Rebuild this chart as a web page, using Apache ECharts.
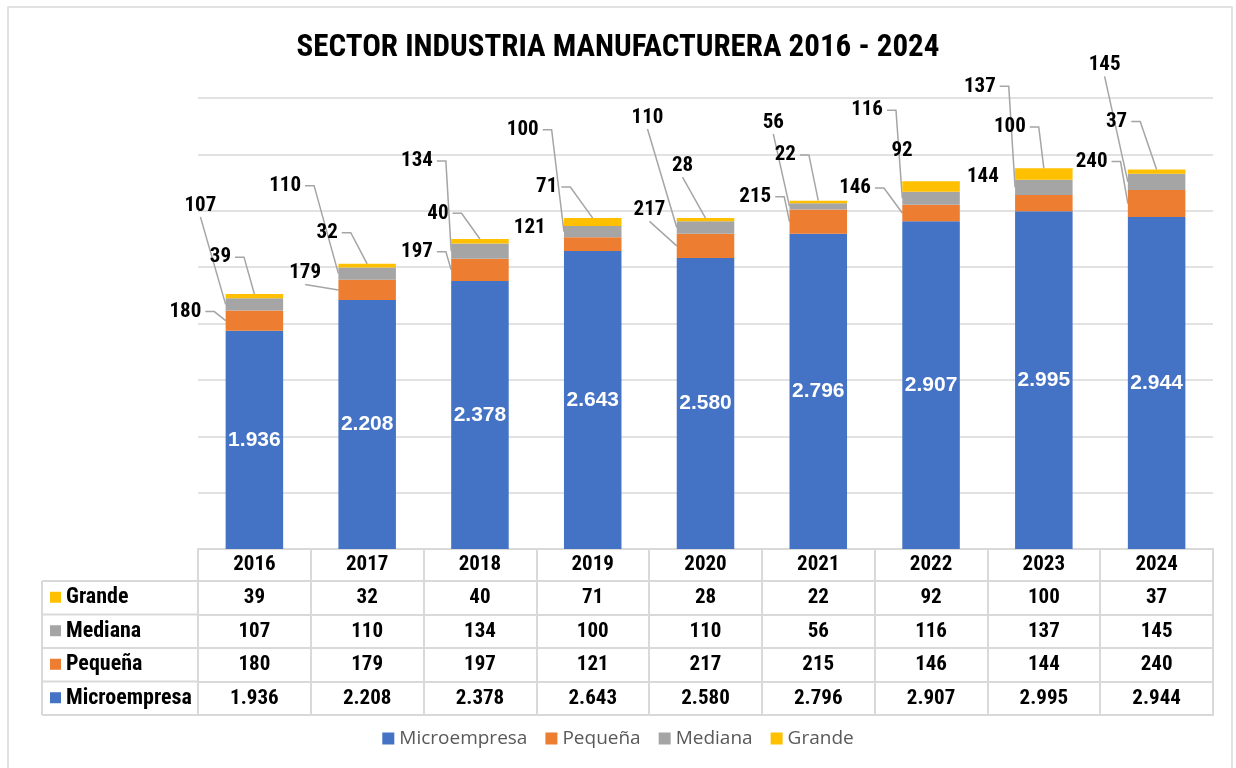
<!DOCTYPE html>
<html>
<head>
<meta charset="utf-8">
<script src="https://cdn.jsdelivr.net/npm/echarts@6/dist/echarts.min.js"></script>
<style>
html, body { margin: 0; padding: 0; background: #fff; }
#main { width: 1236px; height: 768px; }
</style>
</head>
<body>
<div id="main"></div>
<script>
// datos
var years = ['2016', '2017', '2018', '2019', '2020', '2021', '2022', '2023', '2024'];
var microempresa = [1936, 2208, 2378, 2643, 2580, 2796, 2907, 2995, 2944];
var pequena = [180, 179, 197, 121, 217, 215, 146, 144, 240];
var mediana = [107, 110, 134, 100, 110, 56, 116, 137, 145];
var grande = [39, 32, 40, 71, 28, 22, 92, 100, 37];

var colors = { micro: '#4472c4', peq: '#ed7d31', med: '#a5a5a5', gra: '#ffc000' };

// desplazamiento de las etiquetas (px) desde el centro del segmento; 3er valor 0 = sin línea guía
var offPequena = [[-69, -9], [-62, -17], [-63, -18], [-63, -16, 0], [-56, -36], [-63, -25], [-76, -25], [-61, -26, 0], [-65, -42]];
var offMediana = [[-54, -99], [-82, -88], [-63, -90], [-70, -102], [-58, -110], [-45, -84], [-64, -88], [-64, -101], [-52, -117]];
var offGrande = [[-34, -39], [-40, -33], [-42, -28], [-46, -35], [-23, -54], [-33, -47], [-29, -36, 0], [-34, -47], [-40, -50]];

var narrow = '"Roboto Condensed", "Liberation Sans Narrow", "DejaVu Sans Condensed", sans-serif';
var gridColor = '#d9d9d9';
var labelSize = 21;
var barWidthPct = 0.51;

function fmt(v) {
    if (v >= 1000) {
        return Math.floor(v / 1000) + '.' + String(v % 1000).padStart(3, '0');
    }
    return String(v);
}

// filas de la tabla de datos
var tableRows = [
    { name: 'Grande', values: grande, color: colors.gra },
    { name: 'Mediana', values: mediana, color: colors.med },
    { name: 'Pequeña', values: pequena, color: colors.peq },
    { name: 'Microempresa', values: microempresa, color: colors.micro }
];

var plotLeft = 198, plotBottom = 549, tableLeft = 42;
var rowEdges = [0, 32, 65.5, 99, 132.5, 166];

var measureCtx = document.createElement('canvas').getContext('2d');
measureCtx.font = 'bold ' + labelSize + 'px ' + narrow;

// base acumulada de cada serie apilada
function addArr(a, b) { return a.map(function (v, i) { return v + b[i]; }); }
var basePequena = microempresa;
var baseMediana = addArr(microempresa, pequena);
var baseGrande = addArr(baseMediana, mediana);

function outerSeries(name, data, offs, color) {
    return {
        name: name,
        type: 'bar',
        stack: 'total',
        data: data,
        itemStyle: { color: color },
        label: {
            show: true,
            position: 'inside',
            color: '#000',
            fontFamily: narrow,
            fontWeight: 'bold',
            fontSize: labelSize,
            formatter: function (p) { return fmt(p.value); }
        },
        labelLayout: function (p) {
            var o = offs[p.dataIndex];
            return { dx: o[0], dy: o[1] };
        }
    };
}

// líneas guía (estilo Excel) desde la etiqueta hasta el segmento
function guideSeries(values, bases, offs, toTop) {
    return {
        type: 'custom',
        name: 'guia',
        silent: true,
        z: 1,
        data: values.map(function (v, i) { return [i, bases[i], v]; }),
        renderItem: function (params, api) {
            var o = offs[params.dataIndex];
            if (o[2] === 0) return null;
            var i = api.value(0), base = api.value(1), v = api.value(2);
            var c = api.coord([i, base + v / 2]);
            var topY = api.coord([i, base + v])[1];
            var botY = api.coord([i, base])[1];
            var barW = api.size([1, 0])[0] * barWidthPct;
            var tx = toTop ? c[0] : c[0] - barW / 2;
            var ty = toTop ? topY : (topY + botY) / 2;
            var w = measureCtx.measureText(fmt(v)).width;
            var lx = c[0] + o[0], ly = c[1] + o[1];
            var right = lx + w / 2 + 4, bottom = ly + labelSize / 2 + 1;
            var pts;
            if (right + 14 > tx) {
                pts = [[lx, bottom], [tx, ty]];
            } else {
                pts = [[right, ly], [right + 9, ly], [tx, ty]];
            }
            return {
                type: 'polyline',
                shape: { points: pts },
                style: { stroke: '#a5a5a5', lineWidth: 1.5, fill: null }
            };
        }
    };
}

var xAxes = rowEdges.map(function (off, k) {
    var vals = (k > 0 && k < 5) ? tableRows[k - 1].values : null;
    return {
        type: 'category',
        data: years,
        position: 'bottom',
        offset: off,
        axisLine: { show: true, lineStyle: { color: gridColor, width: 2 } },
        axisTick: { show: k === 0, length: 166, interval: 0, lineStyle: { color: gridColor, width: 2 } },
        axisLabel: {
            show: k < 5,
            interval: 0,
            margin: k < 5 ? (rowEdges[k + 1] - rowEdges[k]) / 2 : 0,
            verticalAlign: 'middle',
            color: '#000',
            fontFamily: narrow,
            fontWeight: 'bold',
            fontSize: 21,
            formatter: function (v, i) { return k === 0 ? v : fmt(vals[i]); }
        },
        splitLine: { show: false }
    };
});

// marco y columna izquierda de la tabla
var graphics = [{
    type: 'rect',
    shape: { x: 8, y: 7, width: 1224, height: 775 },
    style: { fill: 'none', stroke: gridColor, lineWidth: 1.5 },
    z: -1
}];
for (var k = 1; k < rowEdges.length; k++) {
    graphics.push({
        type: 'line',
        shape: { x1: tableLeft, y1: plotBottom + rowEdges[k], x2: plotLeft, y2: plotBottom + rowEdges[k] },
        style: { stroke: gridColor, lineWidth: 2 }
    });
}
graphics.push({
    type: 'line',
    shape: { x1: tableLeft, y1: plotBottom + rowEdges[1], x2: tableLeft, y2: plotBottom + rowEdges[5] },
    style: { stroke: gridColor, lineWidth: 2 }
});
tableRows.forEach(function (r, i) {
    var cy = plotBottom + (rowEdges[i + 1] + rowEdges[i + 2]) / 2;
    graphics.push({
        type: 'rect',
        shape: { x: 50, y: cy - 6, width: 11, height: 11 },
        style: { fill: r.color }
    });
    graphics.push({
        type: 'text',
        x: 66,
        y: cy,
        style: {
            text: r.name,
            fill: '#000',
            font: 'bold 22px ' + narrow,
            verticalAlign: 'middle',
            align: 'left'
        }
    });
});

var myChart = echarts.init(document.getElementById('main'));

var option = {
    backgroundColor: '#fff',
    animation: false,
    title: {
        text: 'SECTOR INDUSTRIA MANUFACTURERA 2016 - 2024',
        left: 'center',
        top: 28,
        textStyle: { fontFamily: narrow, fontWeight: 'bold', fontSize: 31, color: '#000' }
    },
    legend: {
        bottom: 15,
        left: 'center',
        icon: 'rect',
        itemWidth: 12,
        itemHeight: 12,
        itemGap: 18,
        textStyle: { color: '#595959', fontSize: 19, fontFamily: '"Open Sans", "Liberation Sans", sans-serif' },
        data: ['Microempresa', 'Pequeña', 'Mediana', 'Grande']
    },
    grid: { left: plotLeft, right: 23, top: 98, bottom: 768 - plotBottom, containLabel: false },
    xAxis: xAxes,
    yAxis: {
        type: 'value',
        min: 0,
        max: 4000,
        interval: 500,
        axisLine: { show: false },
        axisTick: { show: false },
        axisLabel: { show: false },
        splitLine: { lineStyle: { color: gridColor, width: 1.5 } }
    },
    graphic: graphics,
    series: [
        {
            name: 'Microempresa',
            type: 'bar',
            stack: 'total',
            barWidth: (barWidthPct * 100) + '%',
            data: microempresa,
            itemStyle: { color: colors.micro },
            label: {
                show: true,
                position: 'inside',
                color: '#fff',
                fontFamily: '"Liberation Sans", Arial, sans-serif',
                fontWeight: 'bold',
                fontSize: 21,
                formatter: function (p) { return fmt(p.value); }
            }
        },
        outerSeries('Pequeña', pequena, offPequena, colors.peq),
        outerSeries('Mediana', mediana, offMediana, colors.med),
        outerSeries('Grande', grande, offGrande, colors.gra),
        guideSeries(pequena, basePequena, offPequena, false),
        guideSeries(mediana, baseMediana, offMediana, false),
        guideSeries(grande, baseGrande, offGrande, true)
    ]
};

myChart.setOption(option);
</script>
</body>
</html>
